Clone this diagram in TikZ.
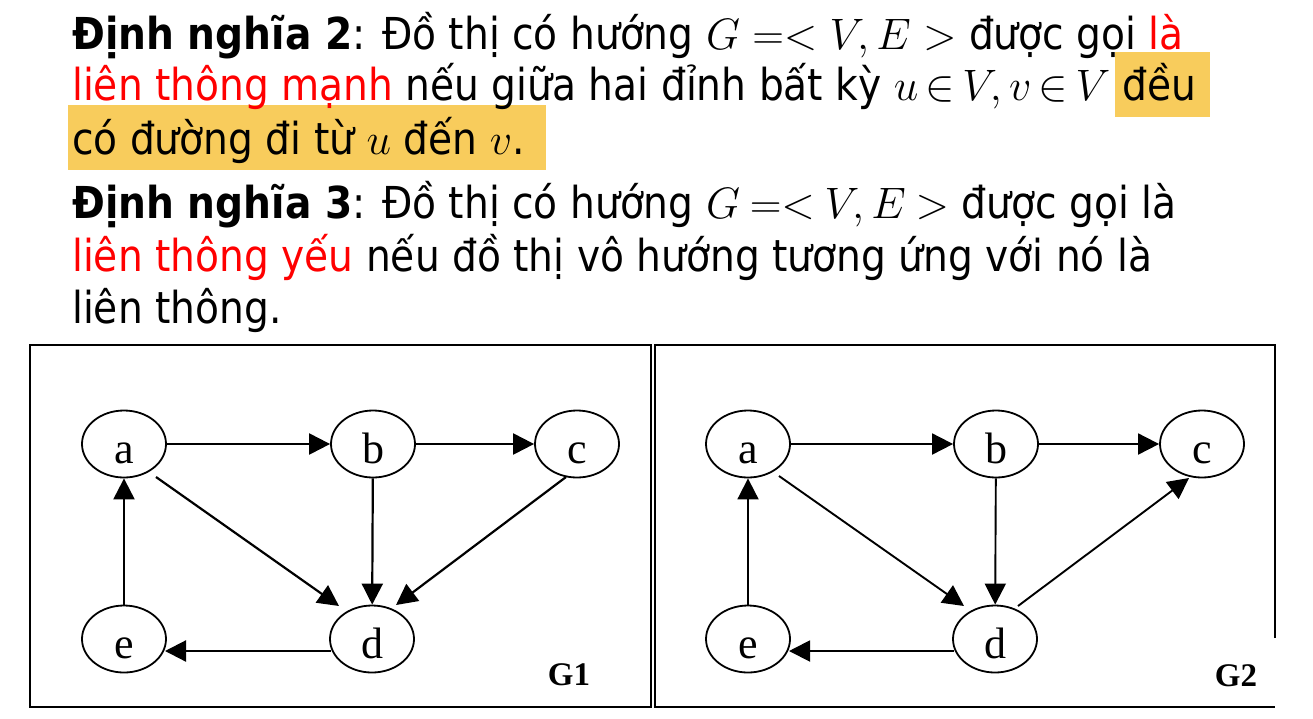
\RequirePackage{fix-cm}
\documentclass[tikz,border=0pt]{standalone}
\usepackage{fontspec}
\setmainfont{DejaVu Sans}[FakeStretch=0.89]
\newfontfamily\timesf{Liberation Serif}
\usetikzlibrary{shapes.geometric,arrows.meta,calc}
\definecolor{hl}{RGB}{248,204,92}
\definecolor{redt}{RGB}{255,0,0}
\begin{document}
\begin{tikzpicture}[x=1pt,y=-1pt,
  txt/.style={anchor=base west,inner sep=0pt,font=\fontsize{44}{52}\selectfont},
  vtx/.style={ellipse,draw,line width=1.8pt,minimum width=84pt,minimum height=67pt,inner sep=0pt,font=\timesf\fontsize{44}{44}\selectfont},
  eone/.style={line width=2.2pt,-{Triangle[length=21pt,width=21pt]}},
  etwo/.style={line width=1.9pt,-{Triangle[length=21pt,width=21pt]}},
  frame/.style={line width=2.4pt},
  glabel/.style={anchor=base,inner sep=0pt,font=\timesf\bfseries\fontsize{33}{33}\selectfont}
]
\useasboundingbox (0,0) rectangle (1313,718);
\fill[white] (0,0) rectangle (1313,718);
% highlights
\fill[hl] (68,105) rectangle (546,170);
\fill[hl] (1115,52) rectangle (1210,117);
% text
\node[txt] (l1) at (72,49) {\textbf{Định nghĩa 2}: Đồ thị có hướng $G =< V, E >$ được gọi \textcolor{redt}{là}};
\node[txt] (l2) at (72,100) {\textcolor{redt}{liên thông mạnh} nếu giữa hai đỉnh bất kỳ $\thickmuskip=3mu u \in V, v \in V$ đều};
\node[txt] (l3) at (72,154) {có đường đi từ $u$ đến $v$.};
\node[txt] (l4) at (72,218) {\textbf{Định nghĩa 3}: Đồ thị có hướng $\thickmuskip=4mu G =< V, E >$ được gọi là};
\node[txt] (l5) at (72,271) {\textcolor{redt}{liên thông yếu} nếu đồ thị vô hướng tương ứng với nó là};
\node[txt] (l6) at (72,323) {liên thông.};
% frames
\draw[frame] (30,345) rectangle (651,707);
\draw[frame] (1275,638) -- (1275,345) -- (655,345) -- (655,707) -- (1275,707);
% G1
\node[vtx] (a) at (124,444) {\smash{\raisebox{-19pt}{a}}};
\node[vtx] (b) at (373,444) {\smash{\raisebox{-19pt}{b}}};
\node[vtx] (c) at (577,444) {\smash{\raisebox{-19pt}{c}}};
\node[vtx] (d) at (372,639) {\smash{\raisebox{-19pt}{d}}};
\node[vtx] (e) at (124,639) {\smash{\raisebox{-19pt}{e}}};
\node[glabel] (g1) at (569,685) {G1};
\draw[eone] (a) -- (b);
\draw[eone] (b) -- (c);
\draw[eone] ($(a.center)+(32,33)$) -- ($(d.center)+(-33,-33)$);
\draw[eone] (b) -- (d);
\draw[eone] ($(c.center)+(-11,33)$) -- ($(d.center)+(24,-34)$);
\draw[eone] ($(d.center)+(-41,12)$) -- ($(e.center)+(41,12)$);
\draw[eone] (e) -- (a);
% G2
\node[vtx] (a2) at (748,444) {\smash{\raisebox{-19pt}{a}}};
\node[vtx] (b2) at (996,444) {\smash{\raisebox{-19pt}{b}}};
\node[vtx] (c2) at (1202,444) {\smash{\raisebox{-19pt}{c}}};
\node[vtx] (d2) at (995,639) {\smash{\raisebox{-19pt}{d}}};
\node[vtx] (e2) at (748,639) {\smash{\raisebox{-19pt}{e}}};
\node[glabel] (g2) at (1236,686) {G2};
\draw[etwo] (a2) -- (b2);
\draw[etwo] (b2) -- (c2);
\draw[etwo] ($(a2.center)+(31,32)$) -- ($(d2.center)+(-31,-33)$);
\draw[etwo] (b2) -- (d2);
\draw[etwo] ($(d2.center)+(23,-33)$) -- ($(c2.center)+(-13,34)$);
\draw[etwo] ($(d2.center)+(-41,12)$) -- ($(e2.center)+(41,12)$);
\draw[etwo] (e2) -- (a2);
\end{tikzpicture}
\end{document}
